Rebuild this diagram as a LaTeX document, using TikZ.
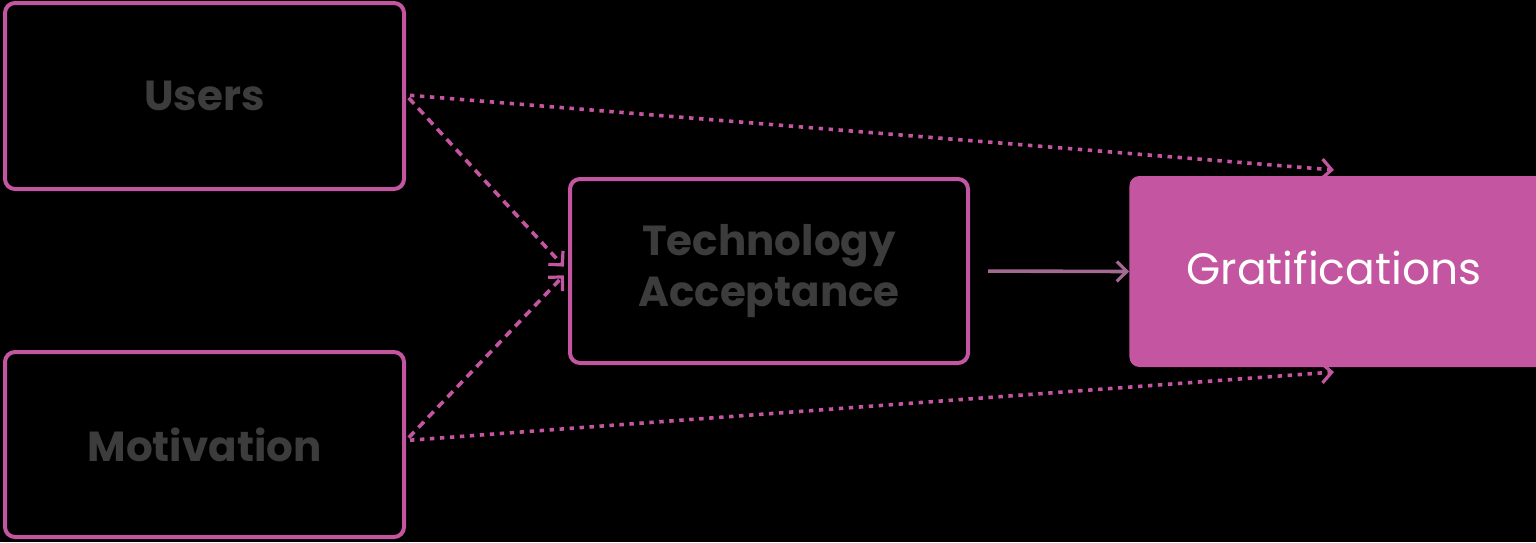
\documentclass[tikz,border=0pt]{standalone}
\usepackage{fontspec}
\setmainfont{Poppins}
\usetikzlibrary{arrows.meta}
\definecolor{mag}{HTML}{C455A0}
\definecolor{txt}{HTML}{3C3C3C}
\begin{document}
\begin{tikzpicture}[x=0.5pt,y=-0.5pt,
  box/.style={draw=mag, line width=2pt, rounded corners=5pt, inner sep=0pt,
    align=center, text=txt, font=\fontsize{21}{25.5}\selectfont\bfseries},
  filledbox/.style={fill=mag, rounded corners=5pt, inner sep=0pt},
  link/.style={draw=mag, line width=1.8pt,
    -{Straight Barb[length=5pt,width=10pt,line width=1.6pt]}},
  dashlink/.style={link, dash pattern=on 4pt off 3pt},
  dotlink/.style={link, dash pattern=on 2.2pt off 2.8pt},
  solidlink/.style={link, draw=mag!50!gray}
]
\fill[black] (0,0) rectangle (1536,542);
\useasboundingbox (0,0) rectangle (1536,542);

\node[box, minimum width=199.5pt, minimum height=93pt] (users) at (204.5,96) {Users};
\node[box, minimum width=199.5pt, minimum height=92.5pt] (motiv) at (204.5,444.5) {Motivation};
\node[box, minimum width=199pt, minimum height=92pt] (tech) at (769,271) {Technology\\Acceptance};
\node[filledbox, minimum width=210pt, minimum height=95.5pt, anchor=west] (grat) at (1129,271.5) {};
\node[text=white, font=\fontsize{22}{26}\selectfont] (grattext) at (1334,268) {Gratifications};

\coordinate (gu) at (1334,170);
\coordinate (gm) at (1334,372);

\draw[dashlink, shorten <=2pt, shorten >=3pt] ([yshift=0.5pt]users.east) -- (tech.west);
\draw[dashlink, shorten <=2pt, shorten >=3pt] ([yshift=2pt]motiv.east) -- (tech.west);
\draw[dotlink, shorten <=2pt] ([yshift=0.5pt]users.east) -- (gu);
\draw[dotlink, shorten <=2pt] ([yshift=2pt]motiv.east) -- (gm);
\draw[solidlink, shorten <=9pt] (tech.east) -- (grat.west);
\end{tikzpicture}
\end{document}
